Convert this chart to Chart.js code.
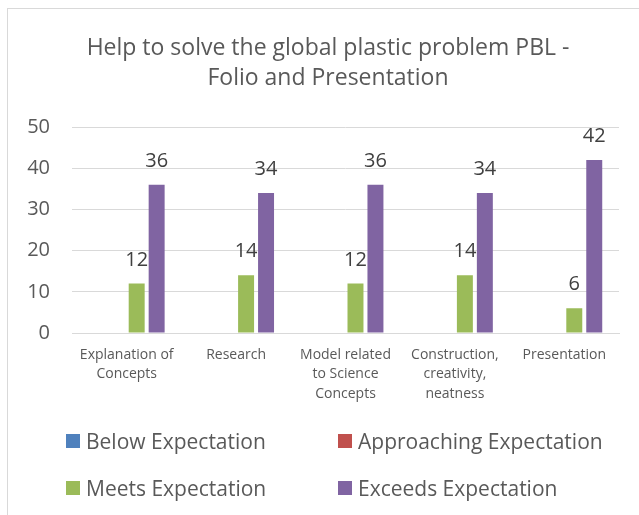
<!DOCTYPE html>
<html>
<head>
<meta charset="utf-8">
<script src="https://cdn.jsdelivr.net/npm/chart.js@4.4.0/dist/chart.umd.min.js"></script>
<style>
    html, body { margin: 0; padding: 0; background: #fff; overflow: hidden; }
    #wrap { position: relative; width: 639px; height: 515px; overflow: hidden; }
    #frame { position: absolute; left: 7px; top: 8px; width: 700px; height: 600px; border: 1px solid #d9d9d9; }
    #chartBox { position: absolute; left: 0; top: 0; width: 639px; height: 515px; }
    #legend { position: absolute; left: 66px; top: 426px; width: 572px; display: grid; grid-template-columns: 272px 272px; row-gap: 17px; font-family: "Open Sans", sans-serif; font-size: 21px; color: #595959; }
    #legend .item { display: flex; align-items: center; height: 30px; white-space: nowrap; }
    #legend .box { width: 14px; height: 14px; margin-right: 6px; }
</style>
</head>
<body>
<div id="wrap">
    <div id="frame"></div>
    <div id="chartBox"><canvas id="rubricChart"></canvas></div>
    <div id="legend"></div>
</div>
<script>
// Chart data
var categories = [
    ['Explanation of', 'Concepts'],
    ['Research'],
    ['Model related', 'to Science', 'Concepts'],
    ['Construction,', 'creativity,', 'neatness'],
    ['Presentation']
];
var seriesNames = ['Below Expectation', 'Approaching Expectation', 'Meets Expectation', 'Exceeds Expectation'];
var belowValues = [0, 0, 0, 0, 0];
var approachingValues = [0, 0, 0, 0, 0];
var meetsValues = [12, 14, 12, 14, 6];
var exceedsValues = [36, 34, 36, 34, 42];
var seriesColors = ['#4f81bd', '#c0504d', '#9bbb59', '#8064a2'];

var textColor = '#595959';
var fontFamily = '"Open Sans", sans-serif';

// Value labels above the bars (zero values are skipped)
const valueLabelPlugin = {
    id: 'valueLabelPlugin',
    afterDatasetsDraw: (chart) => {
        const ctx = chart.ctx;
        ctx.save();
        ctx.font = '20px ' + fontFamily;
        ctx.fillStyle = '#404040';
        ctx.textAlign = 'center';
        ctx.textBaseline = 'alphabetic';
        chart.data.datasets.forEach((ds, di) => {
            const meta = chart.getDatasetMeta(di);
            meta.data.forEach((bar, i) => {
                const v = ds.data[i];
                if (!v) return;
                ctx.fillText(String(v), bar.x, bar.y - 18);
            });
        });
        ctx.restore();
    }
};

var allValues = [belowValues, approachingValues, meetsValues, exceedsValues];

var rubricCtx = document.getElementById('rubricChart').getContext('2d');
var rubricChart = new Chart(rubricCtx, {
    type: 'bar',
    data: {
        labels: categories,
        datasets: seriesNames.map((name, i) => ({
            label: name,
            data: allValues[i],
            backgroundColor: seriesColors[i],
            categoryPercentage: 0.73,
            barPercentage: 0.8
        }))
    },
    options: {
        responsive: true,
        maintainAspectRatio: false,
        animation: false,
        layout: {
            // left padding chosen so the title centres where the original frame's centre is
            padding: { left: 17, right: 0, top: 0, bottom: 110 }
        },
        scales: {
            y: {
                min: 0,
                max: 50,
                ticks: {
                    stepSize: 10,
                    color: textColor,
                    padding: 22,
                    font: { family: fontFamily, size: 20 }
                },
                grid: { color: '#d9d9d9', drawTicks: false },
                border: { display: false },
                afterFit: (scale) => { scale.width = 55; }
            },
            // empty right-hand gutter, keeps the plot area clear of the frame edge
            gutter: {
                position: 'right',
                display: true,
                grid: { display: false, drawTicks: false },
                ticks: { display: false },
                border: { display: false },
                afterFit: (scale) => { scale.width = 20; }
            },
            x: {
                ticks: {
                    color: textColor,
                    padding: 12,
                    maxRotation: 0,
                    autoSkip: false,
                    font: { family: fontFamily, size: 14, lineHeight: 1.4 }
                },
                grid: { display: false, drawTicks: false },
                border: { color: '#d9d9d9' },
                afterFit: (scale) => { scale.height = 72; }
            }
        },
        plugins: {
            legend: { display: false },
            tooltip: { enabled: false },
            title: {
                display: true,
                text: ['Help to solve the global plastic problem PBL -', 'Folio and Presentation'],
                color: textColor,
                font: { family: fontFamily, size: 23, weight: 'normal', lineHeight: 1.33 },
                padding: { top: 33, bottom: 33 }
            }
        }
    },
    plugins: [valueLabelPlugin]
});

// Build the legend from the chart's datasets
var legendEl = document.getElementById('legend');
rubricChart.data.datasets.forEach((ds) => {
    var item = document.createElement('div');
    item.className = 'item';
    var box = document.createElement('span');
    box.className = 'box';
    box.style.background = ds.backgroundColor;
    var txt = document.createElement('span');
    txt.textContent = ds.label;
    item.appendChild(box);
    item.appendChild(txt);
    legendEl.appendChild(item);
});
</script>
</body>
</html>
